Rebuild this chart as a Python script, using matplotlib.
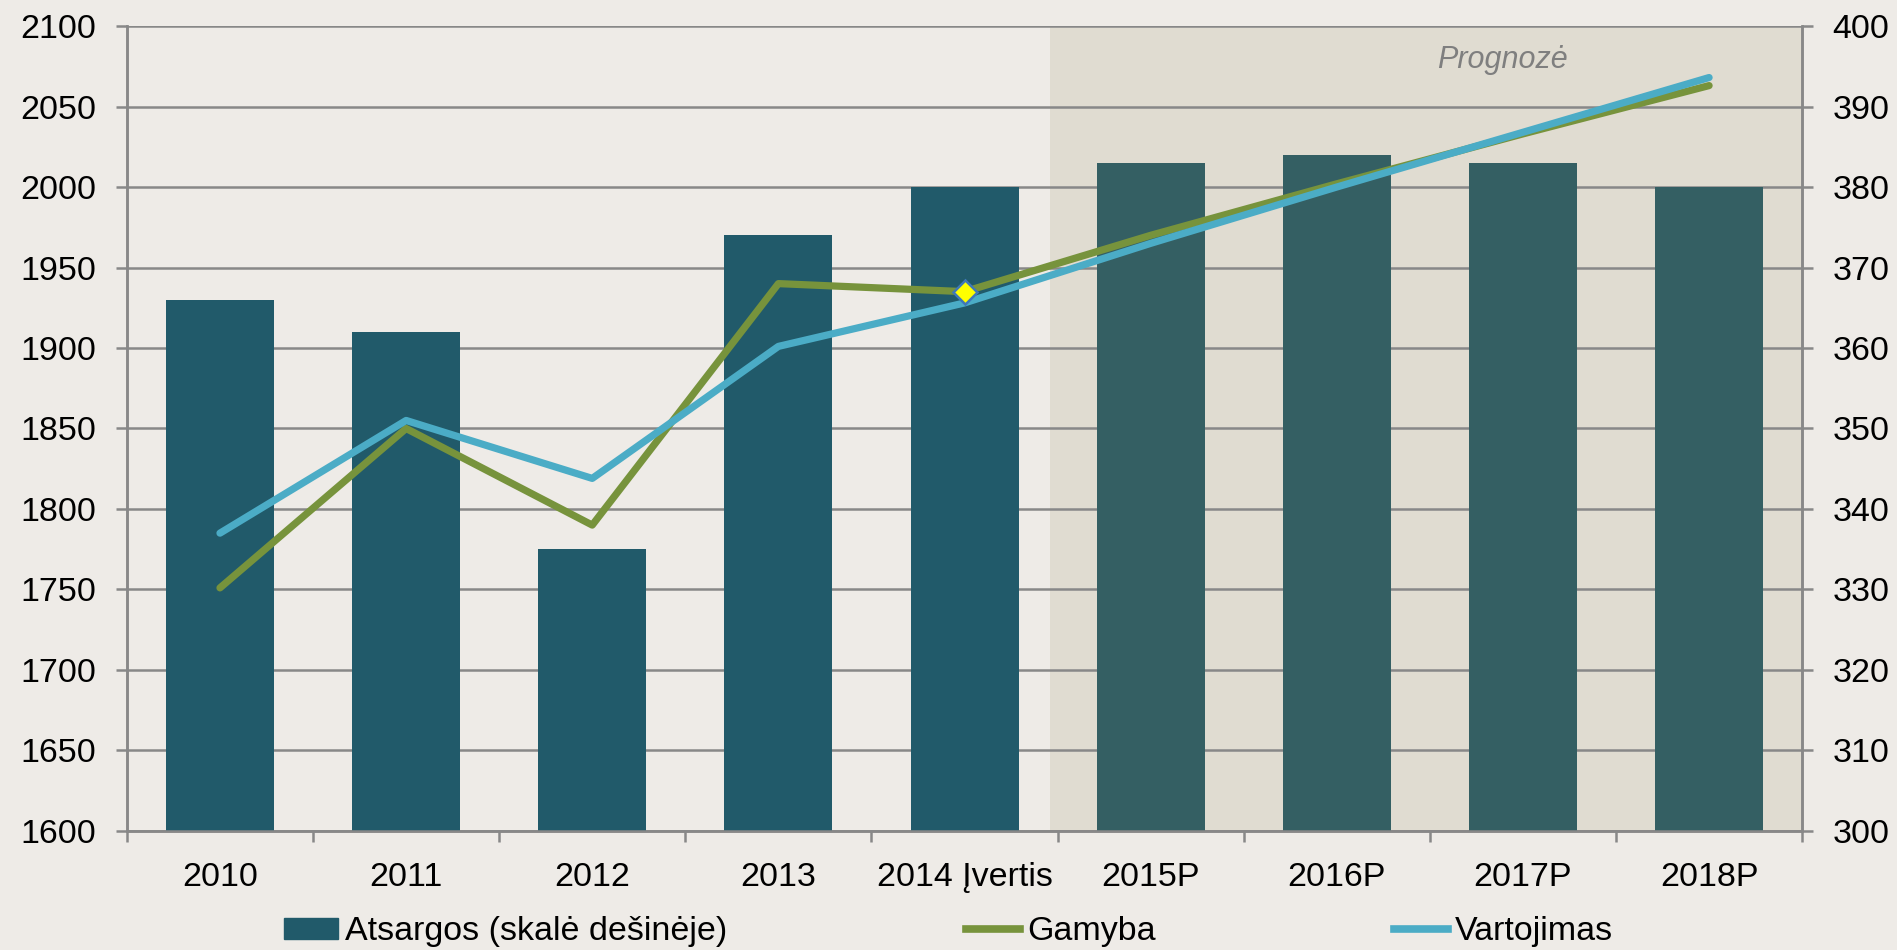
import matplotlib
matplotlib.use("Agg")
import matplotlib.pyplot as plt
import numpy as np
from matplotlib.patches import Patch
from matplotlib.lines import Line2D

plt.rcParams['font.family'] = ['Liberation Sans', 'DejaVu Sans']

# data
labels = ['2010', '2011', '2012', '2013', '2014 Įvertis', '2015P', '2016P', '2017P', '2018P']
atsargos = [366, 362, 335, 374, 380, 383, 384, 383, 380]          # right scale
gamyba = [1751, 1850, 1790, 1940, 1935, 1970, 2002, 2033, 2063]
vartojimas = [1785, 1855, 1819, 1901, 1928, 1965, 2000, 2034, 2068]
n_actual = 5  # first 5 categories are actual, rest forecast

bg = '#eeebe7'
grid_c = '#888888'
fs = 24.5

fig = plt.figure(figsize=(18.97, 9.5), dpi=100, facecolor=bg)
ax = fig.add_axes([0.0669, 0.1253, 0.8831, 0.8473])
ax2 = ax.twinx()

x = np.arange(len(labels))

# forecast shading + bars on the right axis
ax2.axvspan(n_actual - 0.54, len(labels) - 0.5, color='#e0dcd1', zorder=0, lw=0)
bar_colors = ['#215a6a'] * n_actual + ['#345f63'] * (len(labels) - n_actual)
ax2.bar(x, atsargos, width=0.58, color=bar_colors, zorder=3)
ax2.set_ylim(300, 400)
ax2.set_yticks(np.arange(300, 401, 10))
ax2.grid(axis='y', color=grid_c, lw=1.8, zorder=1)
ax2.set_axisbelow(True)

# lines on the left axis, drawn on top
ax.set_zorder(ax2.get_zorder() + 1)
ax.patch.set_visible(False)
ax.plot(x, gamyba, color='#77933c', lw=5.2, solid_capstyle='round', solid_joinstyle='round')
ax.plot(x, vartojimas, color='#4bacc6', lw=5.2, solid_capstyle='round', solid_joinstyle='round')
ax.plot([4], [gamyba[4]], marker='D', ms=12, mfc='#ffff00', mec='#3f78b8', mew=1.8, ls='none')
ax.set_ylim(1600, 2100)
ax.set_yticks(np.arange(1600, 2101, 50))
ax.set_xlim(-0.5, len(labels) - 0.5)

ax.text(6.89, 2079, 'Prognozė', fontsize=22, style='italic', color='#7f7f7f', ha='center', va='center')

# x ticks: labels at categories, marks at the boundaries
ax.set_xticks(x)
ax.set_xticklabels(labels)
ax.set_xticks(np.arange(-0.5, len(labels)), minor=True)
ax.tick_params(axis='x', which='major', length=0, labelsize=fs, pad=22)
ax.tick_params(axis='x', which='minor', length=8, width=1.8, color=grid_c)
ax.tick_params(axis='y', length=8, width=1.8, color=grid_c, labelsize=fs, pad=14)
ax2.tick_params(axis='y', length=8, width=1.8, color=grid_c, labelsize=fs, pad=14)

for a in (ax, ax2):
    for s in a.spines.values():
        s.set_color(grid_c)
        s.set_linewidth(1.8)
    a.spines['top'].set_visible(False)

# legend
handles = [Patch(color='#215a6a', label='Atsargos (skalė dešinėje)'),
           Line2D([], [], color='#77933c', lw=5.5, label='Gamyba'),
           Line2D([], [], color='#4bacc6', lw=5.5, label='Vartojimas')]
fig.legend(handles=handles, loc='center', bbox_to_anchor=(0.5, 0.019), ncol=3,
           frameon=False, fontsize=fs, handlelength=1.6, handletextpad=0.2,
           columnspacing=7.0, handleheight=0.6)

fig.savefig('out.png', dpi=100, facecolor=bg)
